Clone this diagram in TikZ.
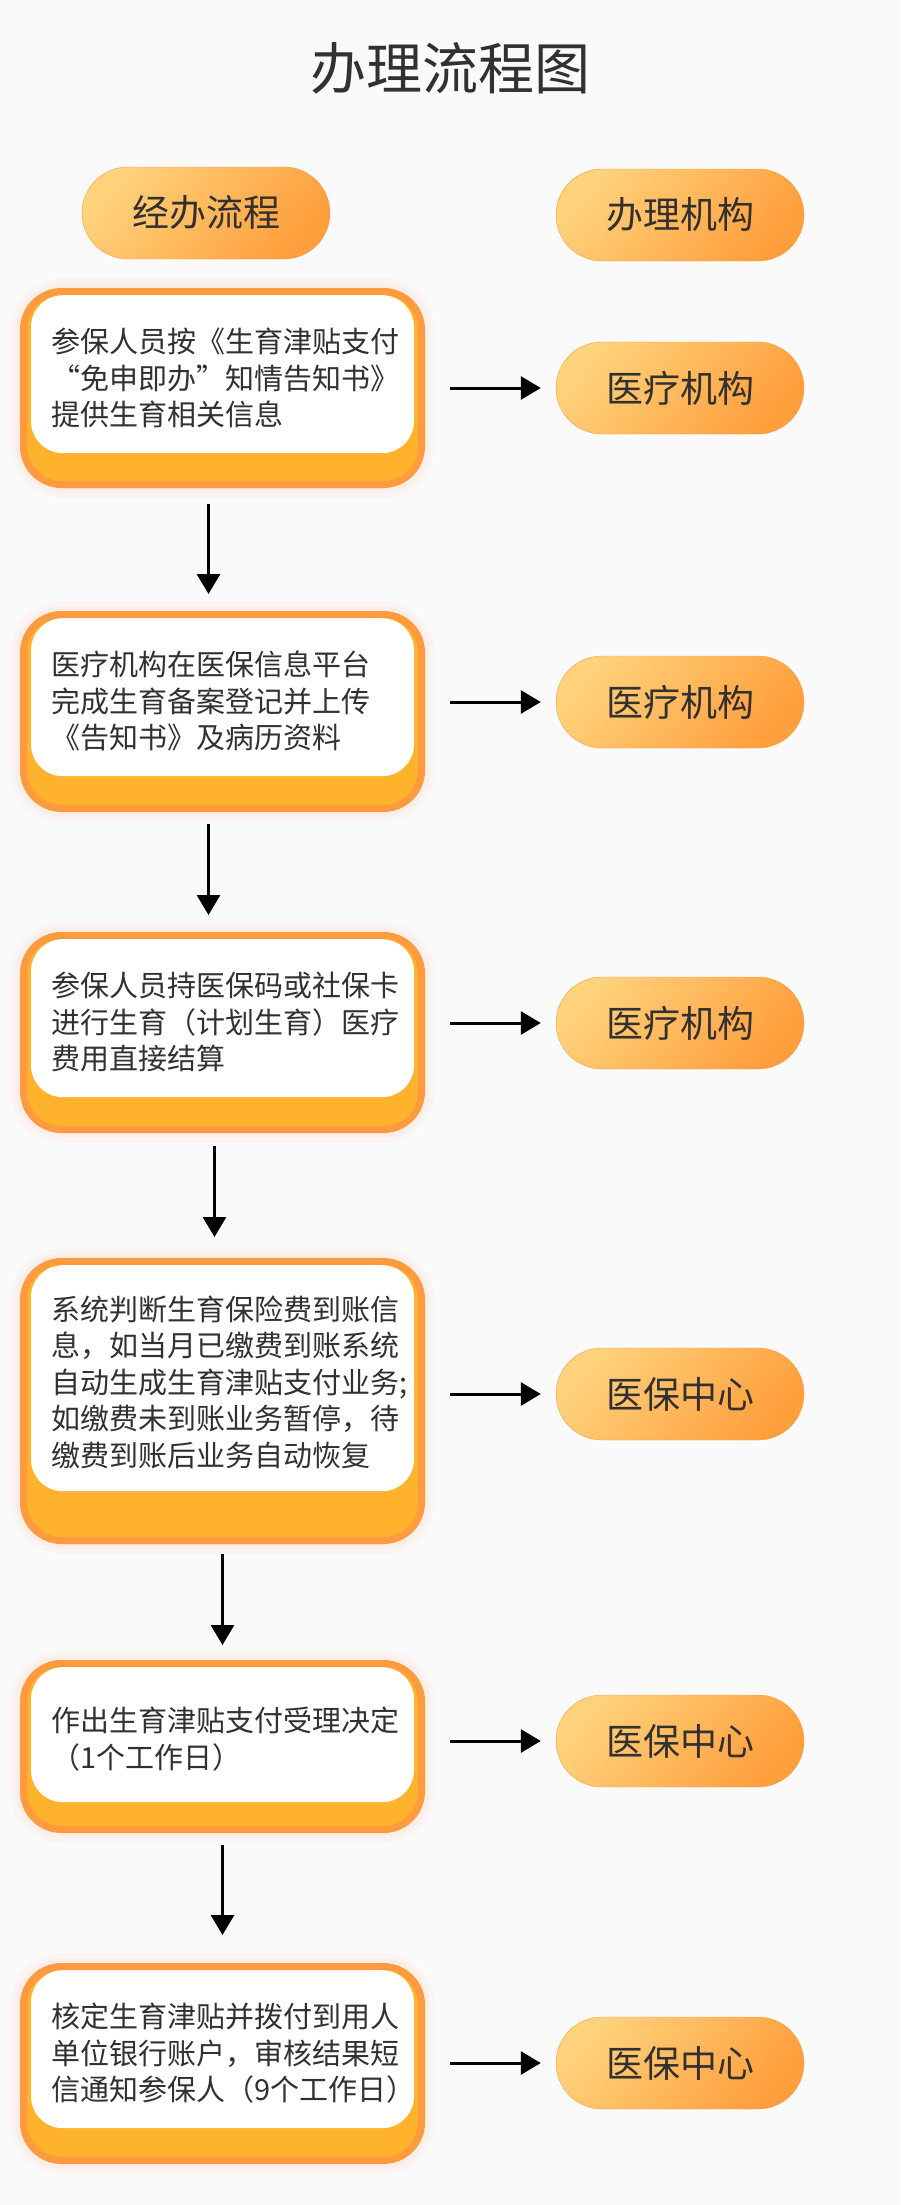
\documentclass[tikz,border=0pt]{standalone}
\usepackage{fontspec}
\usepackage{tikz}
\usetikzlibrary{arrows.meta,positioning}
\newfontfamily\cjk{Noto Sans CJK SC}
\definecolor{bg-gray}{HTML}{FAFAFA}
\definecolor{ink}{HTML}{333030}
\definecolor{edge-orange}{HTML}{FF9A3E}
\definecolor{amber}{HTML}{FFB22B}
\definecolor{pill-light}{HTML}{FFD27C}
\definecolor{pill-dark}{HTML}{FF9E3C}
\definecolor{glow}{HTML}{FFB49A}
\tikzset{
    step-box/.style = {draw=edge-orange, fill=amber, line width=7pt, rectangle, rounded corners=38pt, minimum width=398pt,
        preaction={draw=glow, line width=26pt, draw opacity=0.07},
        preaction={draw=glow, line width=16pt, draw opacity=0.10}},
    step-card/.style = {fill=white, rectangle, rounded corners=32pt, minimum width=383pt, text width=343pt, align=left, text=ink,
        font=\cjk\fontsize{29pt}{36.5pt}\selectfont, execute at begin node={\rule{0pt}{33pt}}},
    org-pill/.style = {draw=pill-dark, thin, rectangle, rounded corners=46pt, minimum width=248pt, minimum height=92pt,
        top color=pill-light, bottom color=pill-dark, shading angle=50, text=ink, font=\cjk\fontsize{37pt}{40pt}\selectfont},
    flow-arrow/.style = {-{Triangle[length=20pt,width=23pt]}, line width=3pt, black},
}

\begin{document}
\begin{tikzpicture}
\fill[bg-gray] (0,0) rectangle (900pt,-2205pt);
\useasboundingbox (0,0) rectangle (900pt,-2205pt);

\node[text=ink, font=\cjk\fontsize{56pt}{60pt}\selectfont] (title) at (450pt,-68pt) {办理流程图};
\node[org-pill] (head-flow) at (206pt,-213pt) {经办流程};
\node[org-pill] (head-org) at (680pt,-215pt) {办理机构};

% steps
\node[step-box, minimum height=193pt] (s1) at (222.5pt,-388pt) {};
\node[step-card, minimum height=158pt, anchor=north] (c1) at ([yshift=-7pt]s1.north) {参保人员按《生育津贴支付\\“免申即办”知情告知书》\\提供生育相关信息};
\node[step-box, minimum height=194pt] (s2) at (222.5pt,-711.5pt) {};
\node[step-card, minimum height=158pt, anchor=north] (c2) at ([yshift=-7pt]s2.north) {医疗机构在医保信息平台\\完成生育备案登记并上传\\《告知书》及病历资料};
\node[step-box, minimum height=194pt] (s3) at (222.5pt,-1032.5pt) {};
\node[step-card, minimum height=158pt, anchor=north] (c3) at ([yshift=-7pt]s3.north) {参保人员持医保码或社保卡\\进行生育（计划生育）医疗\\费用直接结算};
\node[step-box, minimum height=279pt] (s4) at (222.5pt,-1401pt) {};
\node[step-card, minimum height=226pt, anchor=north] (c4) at ([yshift=-7pt]s4.north) {系统判断生育保险费到账信\\息，如当月已缴费到账系统\\自动生成生育津贴支付业务;\\如缴费未到账业务暂停，待\\缴费到账后业务自动恢复};
\node[step-box, minimum height=166pt] (s5) at (222.5pt,-1746.5pt) {};
\node[step-card, minimum height=135pt, anchor=north] (c5) at ([yshift=-7pt]s5.north) {作出生育津贴支付受理决定\\（1个工作日）};
\node[step-box, minimum height=194pt] (s6) at (222.5pt,-2063.5pt) {};
\node[step-card, minimum height=158pt, anchor=north] (c6) at ([yshift=-7pt]s6.north) {核定生育津贴并拨付到用人\\单位银行账户，审核结果短\\信通知参保人（9个工作日）};

% offices
\node[org-pill] (p1) at (680pt,-388pt) {医疗机构};
\node[org-pill] (p2) at (680pt,-702pt) {医疗机构};
\node[org-pill] (p3) at (680pt,-1023pt) {医疗机构};
\node[org-pill] (p4) at (680pt,-1394pt) {医保中心};
\node[org-pill] (p5) at (680pt,-1741pt) {医保中心};
\node[org-pill] (p6) at (680pt,-2063pt) {医保中心};

% arrows
\foreach \a/\b/\dx/\s/\e in {s1/s2/-14/16/17, s2/s3/-14/12/17, s3/s4/-8/13/21, s4/s5/0/10/15, s5/s6/0/12/28}
    \draw[flow-arrow, shorten <=\s pt, shorten >=\e pt] ([xshift=\dx pt]\a.south) -- ([xshift=\dx pt]\b.north);
\foreach \i in {1,...,6}
    \draw[flow-arrow, shorten <=25pt, shorten >=15pt] (s\i.east |- p\i.west) -- (p\i.west);
\end{tikzpicture}
\end{document}
